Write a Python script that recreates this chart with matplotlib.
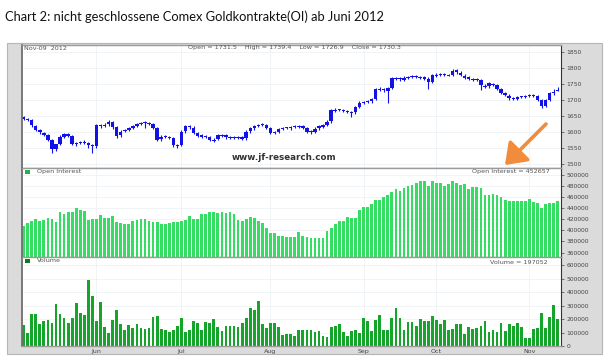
import matplotlib.pyplot as plt
from matplotlib.patches import Rectangle, FancyArrowPatch

# daily gold futures, 2012-05-04 .. 2012-11-09 (one entry per trading day)
opens = [1645, 1640, 1636, 1618, 1604, 1597, 1589, 1574, 1546, 1561, 1585, 1593, 1587, 1561, 1566, 1569, 1564, 1557,
         1556, 1621, 1618, 1623, 1631, 1614, 1589, 1601, 1605, 1613, 1617, 1624, 1629, 1627, 1625, 1611, 1576, 1586,
         1583, 1579, 1557, 1557, 1601, 1617, 1613, 1595, 1589, 1586, 1583, 1573, 1576, 1589, 1591, 1581, 1584, 1581,
         1584, 1579, 1601, 1611, 1617, 1623, 1620, 1611, 1597, 1599, 1609, 1612, 1611, 1615, 1617, 1618, 1611, 1601,
         1599, 1611, 1616, 1621, 1633, 1666, 1670, 1667, 1664, 1662, 1661, 1679, 1691, 1694, 1696, 1703, 1735, 1733,
         1729, 1738, 1767, 1769, 1764, 1769, 1771, 1775, 1772, 1771, 1767, 1757, 1777, 1778, 1781, 1779, 1779, 1793,
         1786, 1777, 1771, 1766, 1766, 1763, 1745, 1743, 1751, 1747, 1734, 1721, 1714, 1706, 1703, 1709, 1711, 1713,
         1715, 1711, 1699, 1681, 1701, 1721, 1731.5]
highs = [1650, 1644, 1639, 1621, 1608, 1600, 1592, 1578, 1563, 1589, 1596, 1597, 1590, 1569, 1572, 1573, 1567, 1562,
         1626, 1625, 1627, 1636, 1634, 1617, 1604, 1609, 1616, 1621, 1629, 1632, 1634, 1631, 1628, 1614, 1590, 1589,
         1586, 1582, 1561, 1604, 1622, 1621, 1617, 1598, 1592, 1589, 1587, 1579, 1594, 1594, 1594, 1587, 1587, 1587,
         1587, 1604, 1615, 1621, 1626, 1627, 1623, 1614, 1602, 1613, 1615, 1616, 1618, 1620, 1622, 1622, 1614, 1604,
         1614, 1620, 1624, 1636, 1671, 1674, 1673, 1671, 1668, 1666, 1682, 1696, 1697, 1699, 1706, 1738, 1740, 1737,
         1741, 1772, 1773, 1773, 1774, 1776, 1779, 1778, 1777, 1775, 1771, 1782, 1784, 1785, 1784, 1782, 1796, 1797,
         1790, 1781, 1775, 1770, 1769, 1767, 1750, 1756, 1755, 1751, 1738, 1725, 1718, 1710, 1712, 1714, 1716, 1719,
         1720, 1715, 1703, 1704, 1726, 1734, 1739.4]
lows = [1636, 1633, 1616, 1601, 1594, 1586, 1571, 1532, 1541, 1558, 1581, 1584, 1557, 1555, 1561, 1560, 1550, 1532,
        1548, 1612, 1614, 1619, 1610, 1580, 1584, 1598, 1601, 1609, 1614, 1620, 1612, 1622, 1608, 1571, 1572, 1580,
        1576, 1553, 1550, 1554, 1597, 1610, 1592, 1584, 1581, 1580, 1570, 1569, 1573, 1585, 1578, 1578, 1578, 1578,
        1574, 1575, 1597, 1607, 1614, 1617, 1608, 1592, 1593, 1595, 1606, 1608, 1607, 1611, 1613, 1608, 1596, 1594,
        1595, 1607, 1612, 1617, 1629, 1662, 1664, 1661, 1659, 1646, 1657, 1675, 1688, 1690, 1692, 1699, 1728, 1726,
        1692, 1734, 1763, 1760, 1760, 1766, 1768, 1768, 1767, 1762, 1733, 1753, 1773, 1775, 1776, 1774, 1775, 1783,
        1774, 1766, 1762, 1761, 1760, 1730, 1738, 1739, 1744, 1731, 1718, 1711, 1701, 1700, 1700, 1705, 1707, 1709,
        1708, 1696, 1676, 1677, 1697, 1717, 1726.9]
closes = [1640, 1638, 1620, 1605, 1598, 1590, 1575, 1545, 1560, 1585, 1592, 1588, 1562, 1565, 1568, 1565, 1558, 1555,
          1620, 1619, 1622, 1632, 1615, 1588, 1600, 1606, 1612, 1618, 1625, 1628, 1628, 1626, 1612, 1575, 1585, 1584,
          1580, 1558, 1556, 1600, 1618, 1614, 1596, 1588, 1585, 1584, 1574, 1575, 1590, 1590, 1582, 1583, 1582, 1583,
          1578, 1600, 1612, 1618, 1622, 1621, 1612, 1596, 1598, 1610, 1611, 1612, 1614, 1616, 1618, 1612, 1600, 1598,
          1610, 1617, 1620, 1632, 1667, 1669, 1668, 1665, 1663, 1660, 1678, 1692, 1693, 1695, 1702, 1734, 1732, 1730,
          1737, 1768, 1768, 1765, 1770, 1772, 1774, 1773, 1772, 1766, 1758, 1778, 1779, 1780, 1780, 1778, 1792, 1787,
          1778, 1770, 1766, 1765, 1764, 1746, 1742, 1752, 1748, 1735, 1722, 1715, 1705, 1704, 1708, 1710, 1712, 1716,
          1712, 1700, 1680, 1700, 1722, 1725, 1730.3]
open_interest = [408700, 414000, 417700, 421300, 417700, 419000, 421900, 421300, 415300, 432700, 429000, 434000,
                 434000, 440000, 437000, 435000, 419500, 420000, 420000, 427300, 423000, 423000, 425500, 416000,
                 413000, 412300, 412300, 417000, 418300, 420000, 420000, 417700, 415300, 415300, 411700, 411700,
                 413000, 415300, 416000, 417700, 418300, 426700, 420700, 420700, 430300, 429000, 432700, 432700,
                 431000, 433300, 431500, 434000, 429000, 419000, 417700, 420700, 424300, 422500, 416500, 413500,
                 403900, 396000, 394900, 390000, 390000, 388800, 388800, 388800, 396700, 389400, 388200, 386400,
                 386400, 385800, 386400, 398500, 404500, 411000, 416500, 416500, 424900, 423100, 422500, 437000,
                 442300, 442300, 447700, 455500, 455500, 460300, 464500, 468800, 475400, 471800, 476600, 480800,
                 481400, 485000, 489200, 488600, 480200, 489800, 485000, 485000, 480800, 483200, 489200, 485000,
                 482600, 483200, 475400, 479000, 477800, 476000, 463400, 464000, 465700, 463400, 460300, 455500,
                 453700, 452500, 452500, 452500, 453700, 456700, 451300, 449500, 441100, 448300, 450100, 450100,
                 452657]
volume = [155000, 100000, 240000, 235000, 163000, 185000, 190000, 172000, 310000, 240000, 205000, 172000, 210000,
          318000, 245000, 230000, 488000, 372000, 188000, 328000, 142000, 98000, 190000, 265000, 160000, 115000,
          155000, 135000, 160000, 132000, 128000, 132000, 215000, 220000, 125000, 120000, 105000, 122000, 148000,
          208000, 105000, 122000, 185000, 168000, 115000, 175000, 172000, 198000, 142000, 112000, 152000, 152000,
          150000, 142000, 168000, 205000, 285000, 268000, 335000, 165000, 135000, 170000, 168000, 140000, 85000,
          88000, 88000, 72000, 118000, 122000, 122000, 122000, 105000, 110000, 75000, 70000, 138000, 145000, 162000,
          105000, 75000, 108000, 120000, 98000, 210000, 188000, 108000, 192000, 232000, 115000, 115000, 205000,
          282000, 205000, 120000, 175000, 178000, 152000, 200000, 185000, 182000, 220000, 192000, 165000, 195000,
          118000, 128000, 165000, 165000, 90000, 140000, 128000, 132000, 145000, 185000, 105000, 120000, 105000,
          170000, 110000, 160000, 145000, 172000, 142000, 60000, 60000, 125000, 132000, 245000, 130000, 212000,
          305000, 197052]
month_labels = ['Jun', 'Jul', 'Aug', 'Sep', 'Oct', 'Nov']
month_start_idx = [18, 39, 61, 84, 102, 125]
price_ticks = [1500, 1550, 1600, 1650, 1700, 1750, 1800, 1850]
oi_ticks = [360000, 380000, 400000, 420000, 440000, 460000, 480000, 500000]
vol_ticks = [0, 100000, 200000, 300000, 400000, 500000, 600000]

W, H = 609, 363
fig = plt.figure(figsize=(W / 100, H / 100), dpi=100)
fig.patch.set_facecolor('white')


def fx(x):
    return x / W


def fy(y):
    return 1 - y / H


def px_axes(x0, y0, x1, y1):
    return fig.add_axes([fx(x0), fy(y1), (x1 - x0) / W, (y1 - y0) / H])


fig.text(fx(5), fy(17), 'Chart 2: nicht geschlossene Comex Goldkontrakte(OI) ab Juni 2012',
         fontsize=9.3, family='Lato', va='center', ha='left', color='#111111')

# grey chart frame, behind the axes
fig.patches.append(Rectangle((fx(7), fy(354)), (602 - 7) / W, (354 - 43) / H, transform=fig.transFigure,
                             facecolor='#dbdbdb', edgecolor='#b5b5b5', lw=0.8, zorder=-5))

blue = '#1212e6'
oi_green = '#35dd62'
vol_green = '#15a52a'
grid_c = '#eef2f6'
n = len(closes)
xs = list(range(n))

ax_p = px_axes(22, 45, 561, 168)
ax_oi = px_axes(22, 168, 561, 257)
ax_v = px_axes(22, 257, 561, 346)

for ax in (ax_p, ax_oi, ax_v):
    ax.set_facecolor('white')
    ax.set_xlim(-0.4, n - 0.2)
    ax.yaxis.tick_right()
    ax.tick_params(axis='y', labelsize=4.3, colors='#444444', length=2, width=0.5, pad=2)
    ax.set_xticks(month_start_idx)
    ax.tick_params(axis='x', length=0)
    ax.grid(True, color=grid_c, lw=0.6)
    ax.set_axisbelow(True)
    for s in ax.spines.values():
        s.set_color('#9a9a9a')
        s.set_linewidth(1.0)
    ax.spines['left'].set_color('#707070')
    ax.spines['left'].set_linewidth(1.3)
    ax.spines['right'].set_color('#333333')
    ax.spines['right'].set_linewidth(0.8)
ax_p.set_xticklabels([])
ax_oi.set_xticklabels([])
ax_v.set_xticklabels(month_labels, fontsize=4.5, color='#444444')
ax_v.tick_params(axis='x', pad=2)

# price candles
for i in xs:
    o, h, l, c = opens[i], highs[i], lows[i], closes[i]
    ax_p.vlines(i, l, h, color=blue, lw=0.8)
    body = max(abs(c - o), 3.0)
    ax_p.bar(i, body, bottom=min(o, c) - (body - abs(c - o)) / 2, width=0.85, color=blue, lw=0)
ax_p.set_ylim(1486, 1873)
ax_p.set_yticks(price_ticks)
ax_p.set_yticklabels([str(t) for t in price_ticks])

ax_oi.bar(xs, open_interest, width=0.68, color=oi_green, lw=0)
ax_oi.set_ylim(352000, 512600)
ax_oi.set_yticks(oi_ticks)
ax_oi.set_yticklabels([str(t) for t in oi_ticks])

ax_v.bar(xs, volume, width=0.68, color=vol_green, lw=0)
ax_v.set_ylim(0, 660000)
ax_v.set_yticks(vol_ticks)
ax_v.set_yticklabels([str(t) for t in vol_ticks])

small = dict(fontsize=4.6, color='#555555', va='center')
fig.text(fx(24), fy(48), 'Nov-09  2012', ha='left', **small)
fig.text(fx(188), fy(48), f'Open = {opens[-1]}    High = {highs[-1]}    Low = {lows[-1]}    Close = {closes[-1]}',
         ha='left', **small)
fig.text(fx(232), fy(158), 'www.jf-research.com', fontsize=6.3, fontweight='bold', color='#333333',
         ha='left', va='center')

fig.patches.append(Rectangle((fx(25), fy(174)), 5 / W, 4 / H, transform=fig.transFigure,
                             facecolor='#22b24a', edgecolor='none', zorder=5))
fig.text(fx(37), fy(172), 'Open Interest', ha='left', **small)
fig.text(fx(550), fy(172), f'Open Interest = {open_interest[-1]}', ha='right', **small)
fig.patches.append(Rectangle((fx(25), fy(263)), 5 / W, 4 / H, transform=fig.transFigure,
                             facecolor='#0f7a1e', edgecolor='none', zorder=5))
fig.text(fx(37), fy(261), 'Volume', ha='left', **small)
fig.text(fx(548), fy(262), f'Volume = {volume[-1]}', ha='right', **small)

arrow = FancyArrowPatch((fx(548), fy(122)), (fx(503), fy(167)), transform=fig.transFigure,
                        arrowstyle='-|>,head_length=0.55,head_width=0.4', mutation_scale=22,
                        color='#f08c3c', lw=2.6, zorder=10)
fig.patches.append(arrow)

fig.savefig('out.png', dpi=100)
